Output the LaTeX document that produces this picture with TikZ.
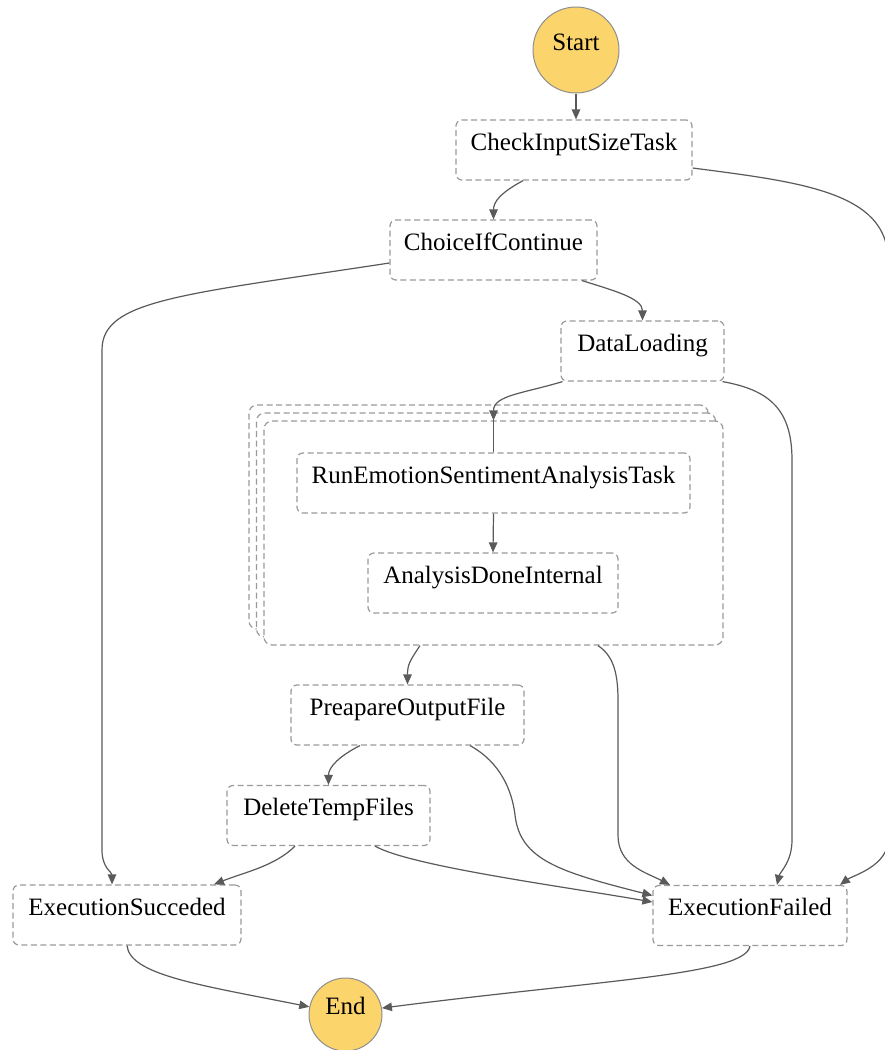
\documentclass[tikz,border=0pt]{standalone}
\usepackage{fontspec}
\setmainfont{Liberation Serif}
\usetikzlibrary{arrows.meta}
\definecolor{boxline}{HTML}{9A9A9A}
\definecolor{edgeline}{HTML}{5A5A5A}
\definecolor{termfill}{HTML}{FCD46C}
\definecolor{termline}{HTML}{8E8E8E}
\begin{document}
\begin{tikzpicture}[x=1pt, y=-1pt,
  every node/.style={font=\fontsize{25}{30}\selectfont},
  taskbox/.style={draw=boxline, line width=1.2pt, dash pattern=on 6pt off 3.5pt,
    rounded corners=6pt, fill=white, inner sep=0pt, text height=30pt, text depth=30pt},
  terminal/.style={circle, draw=termline, line width=1pt, fill=termfill,
    inner sep=0pt, text height=8pt, text depth=8pt},
  mapbox/.style={draw=boxline, line width=1.2pt, dash pattern=on 6pt off 3.5pt,
    rounded corners=8pt, fill=white, minimum width=459pt, minimum height=224pt, inner sep=0pt},
  flow/.style={draw=edgeline, line width=1.2pt, -{Triangle[length=10pt,width=8.5pt]}},
  link/.style={draw=edgeline, line width=1.2pt}
]
\fill[white] (0,0) rectangle (884,1050);
\useasboundingbox (0,0) rectangle (884,1050);

% states
\node[terminal, minimum size=86pt] (start) at (576,50) {Start};
\node[taskbox, minimum width=236pt] (check) at (574,150) {CheckInputSizeTask};
\node[taskbox, minimum width=207pt] (choice) at (493.5,250) {ChoiceIfContinue};
\node[taskbox, minimum width=163pt] (data) at (642.5,351) {DataLoading};

% stacked map state
\node[mapbox] (mapc) at (478.5,517) {};
\node[mapbox] (mapb) at (486,525) {};
\node[mapbox] (map) at (493.5,533) {};
\node[taskbox, minimum width=393pt] (run) at (493.5,483) {RunEmotionSentimentAnalysisTask};
\node[taskbox, minimum width=250pt] (done) at (493,583) {AnalysisDoneInternal};

\node[taskbox, minimum width=233pt] (prep) at (407.5,715) {PreapareOutputFile};
\node[taskbox, minimum width=203pt] (del) at (328.5,815.5) {DeleteTempFiles};
\node[taskbox, minimum width=228pt] (succ) at (127,915) {ExecutionSucceded};
\node[taskbox, minimum width=194pt] (fail) at (750,915.5) {ExecutionFailed};
\node[terminal, minimum size=73pt] (end) at (345.5,1014.5) {End};

% transitions
\draw[flow] (start.south) -- (start.south |- check.north);
\draw[flow] ([xshift=-51pt]check.south) .. controls +(-22,12) and +(0,-18) .. (choice.north);
\draw[flow] ([yshift=-18pt]check.east) .. controls (800,182) and (888,192) .. (888,260)
  -- (888,840) .. controls (888,866) and (852,876) .. ([xshift=90pt]fail.north);
\draw[flow] ([xshift=88.5pt]choice.south) .. controls +(32,10) and +(0,-22) .. (data.north);
\draw[flow] ([yshift=-13pt]choice.west) .. controls (180,295) and (102,300) .. (102,350)
  -- (102,850) .. controls (102,868) and (112,872) .. ([xshift=-15pt]succ.north);
\draw[flow] ([xshift=-80pt]data.south) .. controls +(-40,12) and +(0,-25) .. (map.north);
\draw[link] (map.north) -- (run.north);
\draw[flow] ([xshift=80pt]data.south) .. controls (770,390) and (792,410) .. (792,460)
  -- (792,840) .. controls (792,862) and (780,872) .. ([xshift=27pt]fail.north);
\draw[flow] (run.south) -- (done.north);
\draw[flow] ([xshift=-73.5pt]map.south) .. controls +(-10,15) and +(0,-20) .. (prep.north);
\draw[flow] ([xshift=104.5pt]map.south) .. controls (612,655) and (618,670) .. (618,700)
  -- (618,835) .. controls (618,865) and (645,872) .. ([xshift=-80pt]fail.north);
\draw[flow] ([xshift=-47.5pt]prep.south) .. controls +(-20,10) and +(0,-18) .. (del.north);
\draw[flow] ([xshift=62.5pt]prep.south) .. controls (500,762) and (512,790) .. (515,815)
  .. controls (520,860) and (560,872) .. ([yshift=20pt]fail.west);
\draw[flow] ([xshift=46.5pt]del.south) .. controls (410,866) and (560,886) .. ([yshift=13.5pt]fail.west);
\draw[flow] ([xshift=-33.5pt]del.south) .. controls +(-20,20) and +(30,-12) .. ([xshift=87pt]succ.north);
\draw[flow] (succ.south) .. controls (130,975) and (200,985) .. (end.168);
\draw[flow] (fail.south) .. controls (745,975) and (600,980) .. (end.10);
\end{tikzpicture}
\end{document}
